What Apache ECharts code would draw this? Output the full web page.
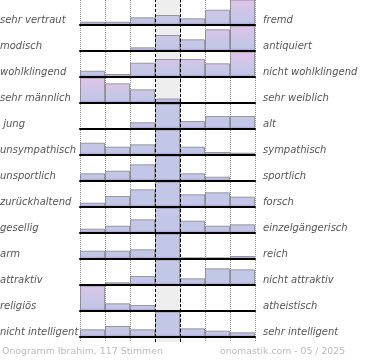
<!DOCTYPE html>
<html><head><meta charset="utf-8">
<script src="https://cdn.jsdelivr.net/npm/echarts@6/dist/echarts.min.js"></script>
<style>html,body{margin:0;padding:0;background:#fff}#c{width:370px;height:360px}</style>
</head><body><div id="c"></div>
<script>
const leftLabels = ['sehr vertraut','modisch','wohlklingend','sehr männlich',' jung','unsympathisch','unsportlich','zurückhaltend','gesellig','arm','attraktiv','religiös','nicht intelligent'];
const rightLabels = ['fremd','antiquiert','nicht wohlklingend','sehr weiblich','alt','sympathisch','sportlich','forsch','einzelgängerisch','reich','nicht attraktiv','atheistisch','sehr intelligent'];
const columns = ['1','2','3','4','5','6','7'];
const footerLeft = 'Onogramm Ibrahim, 117 Stimmen';
const footerRight = 'onomastik.com - 05 / 2025';

const rowVertraut     = [3.3, 3.3, 7.7, 10, 6.7, 15.3, 27];
const rowModisch      = [0, 0, 3.7, 16, 11.7, 21.7, 30];
const rowWohlklingend = [6.3, 3, 14.3, 18, 18, 13.7, 26];
const rowMaennlich    = [27, 19.7, 13.7, 4.5, 0, 0, 0];
const rowJung         = [0, 0, 6.7, 85, 8, 13, 13];
const rowSympathisch  = [12.3, 8.3, 10.7, 90, 8.3, 3, 2.3];
const rowSportlich    = [7.7, 10.3, 16.7, 88, 7.7, 4.3, 0];
const rowForsch       = [4.3, 11, 17.7, 80, 12.7, 14.7, 10.3];
const rowGesellig     = [4.3, 7.3, 13.7, 85, 12.3, 7.3, 8.7];
const rowArm          = [8.3, 8.3, 9.7, 95, 1.7, 1.7, 3];
const rowAttraktiv    = [0, 2.7, 9, 80, 6.7, 16.7, 15.7];
const rowReligioes    = [30, 7.7, 6, 0, 0, 0, 0];
const rowIntelligent  = [7.7, 11, 7.7, 90, 8.7, 6.3, 4.7];
const rows = [rowVertraut,rowModisch,rowWohlklingend,rowMaennlich,rowJung,rowSympathisch,rowSportlich,rowForsch,rowGesellig,rowArm,rowAttraktiv,rowReligioes,rowIntelligent];

const ROWMAX = 25;
const BLUE=[195,199,231], PINK=[223,196,232], PURPLE=[166,152,206];
function mix(a,b,t){return a.map((v,i)=>Math.round(v+(b[i]-v)*t));}
function rgb(c){return 'rgb('+c.join(',')+')';}
function colAt(u,M){
  const t=Math.max(0,Math.min(1,(u/M-0.22)/0.65));
  let c=mix(BLUE,PINK,t);
  if(u<3) c=mix(PURPLE,c,u/3);
  return c;
}
function barColor(v,M){
  const hv=Math.min(v,ROWMAX);
  if(hv<=0) return rgb(PURPLE);
  const us=[hv,hv*0.8,hv*0.6,hv*0.4,hv*0.2,3,1.5,0].filter(u=>u<=hv);
  const stops=us.map(u=>({offset:1-u/hv,color:rgb(colAt(u,M))}));
  stops.sort((a,b)=>a.offset-b.offset);
  return {type:'linear',x:0,y:0,x2:0,y2:1,colorStops:stops};
}

const grids=[],xAxes=[],yAxes=[],series=[],graphics=[];
grids.push({left:80,width:175,top:0,height:342});
xAxes.push({gridIndex:0,type:'value',min:0,max:7,interval:1,axisLine:{show:false},axisTick:{show:false},axisLabel:{show:false},
  splitLine:{show:true,lineStyle:{type:'dotted',color:'#888',width:1}}});
yAxes.push({gridIndex:0,type:'value',min:0,max:1,show:false,splitLine:{show:false}});
series.push({type:'line',xAxisIndex:0,yAxisIndex:0,data:[],z:0,silent:true,
  markArea:{silent:true,itemStyle:{color:'#eeeeee'},data:[[{xAxis:3},{xAxis:4}]]}});
series.push({type:'line',xAxisIndex:0,yAxisIndex:0,data:[],z:10,silent:true,
  markLine:{silent:true,symbol:'none',label:{show:false},lineStyle:{type:[3,2],color:'#000',width:1},data:[{xAxis:3},{xAxis:4}]}});

rows.forEach((r,i)=>{
  const b=25+26*i;
  const gi=i+1;
  const M=Math.max(...r);
  grids.push({left:80,width:175,top:b-25,height:25});
  xAxes.push({gridIndex:gi,type:'category',data:columns,boundaryGap:true,z:5,
    axisLine:{show:true,lineStyle:{color:'#000',width:2}},axisTick:{show:false},axisLabel:{show:false},splitLine:{show:false}});
  yAxes.push({gridIndex:gi,type:'value',min:0,max:ROWMAX,show:false,splitLine:{show:false}});
  series.push({type:'bar',xAxisIndex:gi,yAxisIndex:gi,barCategoryGap:'0%',clip:true,z:2,silent:true,
    data:r.map(v=>({value:v,itemStyle:{color:barColor(v,M),borderColor:'rgba(120,120,120,0.7)',borderWidth:v>0?1:0}}))});
  graphics.push({type:'text',x:0,y:b-5,style:{text:leftLabels[i],font:'italic 10px "DejaVu Sans"',fill:'#555',verticalAlign:'middle'}});
  graphics.push({type:'text',x:263,y:b-5,style:{text:rightLabels[i],font:'italic 10px "DejaVu Sans"',fill:'#555',verticalAlign:'middle'}});
});
graphics.push({type:'text',x:2,y:352,style:{text:footerLeft,font:'9.4px "DejaVu Sans"',fill:'#bbb',verticalAlign:'middle'}});
graphics.push({type:'text',x:220,y:352,style:{text:footerRight,font:'9.3px "DejaVu Sans"',fill:'#bbb',verticalAlign:'middle'}});

const chart=echarts.init(document.getElementById('c'),null,{renderer:'canvas'});
chart.setOption({animation:false,grid:grids,xAxis:xAxes,yAxis:yAxes,series:series,graphic:graphics});
</script></body></html>
